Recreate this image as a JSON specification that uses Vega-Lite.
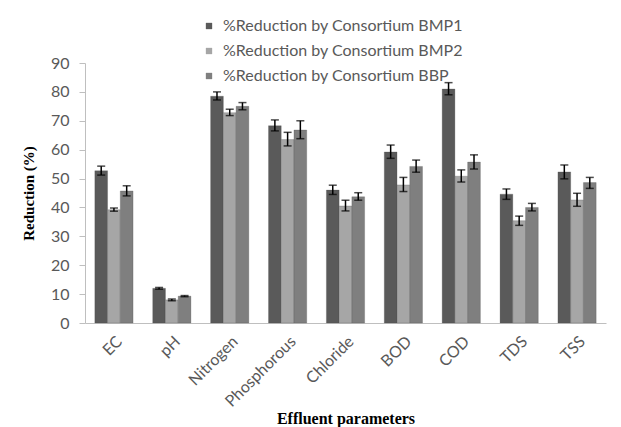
{
  "$schema": "https://vega.github.io/schema/vega-lite/v6.json",
  "autosize": "none",
  "width": 521,
  "height": 260,
  "padding": {"left": 85, "top": 63, "right": 15, "bottom": 104},
  "background": "white",
  "data": {
    "values": [
      {"param": "EC", "series": "%Reduction by Consortium BMP1", "value": 52.7, "lo": 51.2, "hi": 54.3},
      {"param": "EC", "series": "%Reduction by Consortium BMP2", "value": 39.2, "lo": 38.7, "hi": 39.8},
      {"param": "EC", "series": "%Reduction by Consortium BBP", "value": 45.7, "lo": 44.0, "hi": 47.5},
      {"param": "pH", "series": "%Reduction by Consortium BMP1", "value": 12.0, "lo": 11.7, "hi": 12.3},
      {"param": "pH", "series": "%Reduction by Consortium BMP2", "value": 8.0, "lo": 7.7, "hi": 8.3},
      {"param": "pH", "series": "%Reduction by Consortium BBP", "value": 9.3, "lo": 9.1, "hi": 9.5},
      {"param": "Nitrogen", "series": "%Reduction by Consortium BMP1", "value": 78.5, "lo": 77.2, "hi": 80.0},
      {"param": "Nitrogen", "series": "%Reduction by Consortium BMP2", "value": 72.8, "lo": 71.8, "hi": 74.0},
      {"param": "Nitrogen", "series": "%Reduction by Consortium BBP", "value": 75.0, "lo": 73.8, "hi": 76.3},
      {"param": "Phosphorous", "series": "%Reduction by Consortium BMP1", "value": 68.3, "lo": 66.5, "hi": 70.3},
      {"param": "Phosphorous", "series": "%Reduction by Consortium BMP2", "value": 63.5, "lo": 61.3, "hi": 66.0},
      {"param": "Phosphorous", "series": "%Reduction by Consortium BBP", "value": 66.8, "lo": 63.8, "hi": 70.0},
      {"param": "Chloride", "series": "%Reduction by Consortium BMP1", "value": 46.0, "lo": 44.5, "hi": 47.7},
      {"param": "Chloride", "series": "%Reduction by Consortium BMP2", "value": 40.5, "lo": 38.8, "hi": 42.5},
      {"param": "Chloride", "series": "%Reduction by Consortium BBP", "value": 43.7, "lo": 42.5, "hi": 45.1},
      {"param": "BOD", "series": "%Reduction by Consortium BMP1", "value": 59.2, "lo": 57.0, "hi": 61.6},
      {"param": "BOD", "series": "%Reduction by Consortium BMP2", "value": 47.8, "lo": 45.5, "hi": 50.4},
      {"param": "BOD", "series": "%Reduction by Consortium BBP", "value": 54.2, "lo": 52.2, "hi": 56.4},
      {"param": "COD", "series": "%Reduction by Consortium BMP1", "value": 81.0, "lo": 79.0, "hi": 83.2},
      {"param": "COD", "series": "%Reduction by Consortium BMP2", "value": 50.8, "lo": 48.8, "hi": 53.0},
      {"param": "COD", "series": "%Reduction by Consortium BBP", "value": 55.7, "lo": 53.3, "hi": 58.2},
      {"param": "TDS", "series": "%Reduction by Consortium BMP1", "value": 44.6, "lo": 42.8, "hi": 46.4},
      {"param": "TDS", "series": "%Reduction by Consortium BMP2", "value": 35.4, "lo": 33.8, "hi": 37.0},
      {"param": "TDS", "series": "%Reduction by Consortium BBP", "value": 40.0, "lo": 38.8, "hi": 41.4},
      {"param": "TSS", "series": "%Reduction by Consortium BMP1", "value": 52.3, "lo": 49.9, "hi": 54.7},
      {"param": "TSS", "series": "%Reduction by Consortium BMP2", "value": 42.6, "lo": 40.4, "hi": 44.9},
      {"param": "TSS", "series": "%Reduction by Consortium BBP", "value": 48.6, "lo": 46.6, "hi": 50.4}
    ]
  },
  "encoding": {
    "x": {
      "field": "param",
      "type": "nominal",
      "sort": null,
      "scale": {"paddingInner": 0.34, "paddingOuter": 0.17},
      "axis": {
        "title": "Effluent parameters",
        "labelAngle": -45,
        "labelAlign": "right",
        "labelBaseline": "top",
        "labelPadding": 10,
        "labelFont": "Lato",
        "labelFontSize": 16,
        "labelColor": "#595959",
        "ticks": false,
        "domainColor": "#bfbfbf",
        "titleFont": "Liberation Serif",
        "titleFontSize": 16,
        "titleFontWeight": "bold",
        "titleColor": "#000000",
        "titleY": 100,
        "titleBaseline": "alphabetic"
      }
    },
    "xOffset": {
      "field": "series",
      "type": "nominal",
      "sort": null,
      "scale": {"paddingInner": 0, "paddingOuter": 0}
    }
  },
  "layer": [
    {
      "mark": {"type": "bar", "stroke": "#4a4a4a", "strokeWidth": 0.5, "strokeOpacity": 0.5},
      "encoding": {
        "y": {
          "field": "value",
          "type": "quantitative",
          "scale": {"domain": [0, 90]},
          "axis": {"title": "Reduction (%)"}
        },
        "color": {
          "field": "series",
          "type": "nominal",
          "sort": null,
          "scale": {
            "domain": ["%Reduction by Consortium BMP1", "%Reduction by Consortium BMP2", "%Reduction by Consortium BBP"],
            "range": ["#5a5a5a", "#a6a6a6", "#7f7f7f"]
          },
          "legend": {
            "title": null,
            "orient": "none",
            "legendX": 116,
            "legendY": -45,
            "direction": "vertical",
            "padding": 0,
            "rowPadding": 9,
            "symbolType": "square",
            "symbolSize": 40,
            "symbolStrokeWidth": 0,
            "labelOffset": 6,
            "labelFont": "Lato",
            "labelFontSize": 16,
            "labelColor": "#595959",
            "labelLimit": 400
          }
        }
      }
    },
    {
      "mark": {"type": "rule", "color": "#000000", "strokeWidth": 1.5},
      "encoding": {
        "y": {"field": "lo", "type": "quantitative", "scale": {"domain": [0, 90]}, "axis": {"title": "Reduction (%)"}},
        "y2": {"field": "hi"}
      }
    },
    {
      "mark": {"type": "tick", "color": "#000000", "thickness": 1.5, "size": 8},
      "encoding": {
        "y": {"field": "lo", "type": "quantitative", "scale": {"domain": [0, 90]}, "axis": {"title": "Reduction (%)"}}
      }
    },
    {
      "mark": {"type": "tick", "color": "#000000", "thickness": 1.5, "size": 8},
      "encoding": {
        "y": {"field": "hi", "type": "quantitative", "scale": {"domain": [0, 90]}, "axis": {"title": "Reduction (%)"}}
      }
    }
  ],
  "config": {
    "view": {"stroke": null},
    "axisY": {
      "tickCount": 10,
      "labelOverlap": false,
      "grid": false,
      "labelFont": "Lato",
      "labelFontSize": 16,
      "labelColor": "#595959",
      "labelPadding": 10,
      "tickSize": 6,
      "tickColor": "#bfbfbf",
      "domainColor": "#bfbfbf",
      "titleFont": "Liberation Serif",
      "titleFontSize": 15,
      "titleFontWeight": "bold",
      "titleColor": "#000000",
      "titlePadding": 14
    }
  }
}
